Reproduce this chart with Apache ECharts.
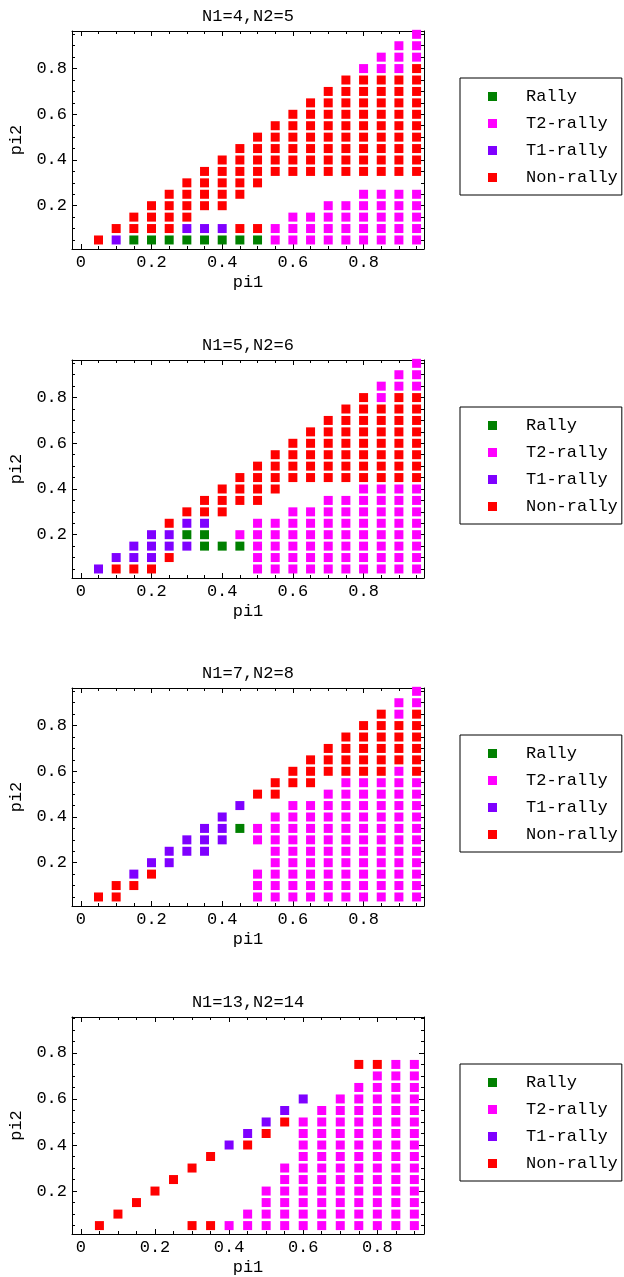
<!DOCTYPE html>
<html>
<head>
<meta charset="utf-8">
<script src="https://cdn.jsdelivr.net/npm/echarts@6.0.0/dist/echarts.min.js"></script>
<style>
  html, body { margin: 0; padding: 0; background: #fff; }
  #main { width: 624px; height: 1277px; }
</style>
</head>
<body>
<div id="main"></div>
<script>
// legend categories and colours
const categories = ['Rally', 'T2-rally', 'T1-rally', 'Non-rally'];
const catColors = ['#008000', '#ff00ff', '#7f00ff', '#ff0000'];
const titles = ['N1=4,N2=5', 'N1=5,N2=6', 'N1=7,N2=8', 'N1=13,N2=14'];

// tick values
const xTickLabels = [0, 0.2, 0.4, 0.6, 0.8];
const yTickLabels = [0.2, 0.4, 0.6, 0.8];
const minorTicks = [0.05, 0.1, 0.15, 0.25, 0.3, 0.35, 0.45, 0.5, 0.55, 0.65, 0.7, 0.75, 0.85, 0.9, 0.95];
const minorTicks4 = [0.05, 0.1, 0.15, 0.25, 0.3, 0.35, 0.45, 0.5, 0.55, 0.65, 0.7, 0.75, 0.85, 0.9];

// data: [pi1, [pi2 values at that pi1]]
// N1=4,N2=5
const p1Rally = [[0.15, [0.05]], [0.2, [0.05]], [0.25, [0.05]], [0.3, [0.05]], [0.35, [0.05]], [0.4, [0.05]], [0.45, [0.05]], [0.5, [0.05]]];
const p1T2 = [
  [0.55, [0.05, 0.1]],
  [0.6, [0.05, 0.1, 0.15]],
  [0.65, [0.05, 0.1, 0.15]],
  [0.7, [0.05, 0.1, 0.15, 0.2]],
  [0.75, [0.05, 0.1, 0.15, 0.2]],
  [0.8, [0.05, 0.1, 0.15, 0.2, 0.25, 0.8]],
  [0.85, [0.05, 0.1, 0.15, 0.2, 0.25, 0.8, 0.85]],
  [0.9, [0.05, 0.1, 0.15, 0.2, 0.25, 0.8, 0.85, 0.9]],
  [0.95, [0.05, 0.1, 0.15, 0.2, 0.25, 0.85, 0.9, 0.95]]
];
const p1T1 = [[0.1, [0.05]], [0.3, [0.1]], [0.35, [0.1]], [0.4, [0.1]]];
const p1Non = [
  [0, [0]],
  [0.05, [0.05]],
  [0.1, [0.1]],
  [0.15, [0.1, 0.15]],
  [0.2, [0.1, 0.15, 0.2]],
  [0.25, [0.1, 0.15, 0.2, 0.25]],
  [0.3, [0.15, 0.2, 0.25, 0.3]],
  [0.35, [0.2, 0.25, 0.3, 0.35]],
  [0.4, [0.2, 0.25, 0.3, 0.35, 0.4]],
  [0.45, [0.1, 0.25, 0.3, 0.35, 0.4, 0.45]],
  [0.5, [0.1, 0.3, 0.35, 0.4, 0.45, 0.5]],
  [0.55, [0.35, 0.4, 0.45, 0.5, 0.55]],
  [0.6, [0.35, 0.4, 0.45, 0.5, 0.55, 0.6]],
  [0.65, [0.35, 0.4, 0.45, 0.5, 0.55, 0.6, 0.65]],
  [0.7, [0.35, 0.4, 0.45, 0.5, 0.55, 0.6, 0.65, 0.7]],
  [0.75, [0.35, 0.4, 0.45, 0.5, 0.55, 0.6, 0.65, 0.7, 0.75]],
  [0.8, [0.35, 0.4, 0.45, 0.5, 0.55, 0.6, 0.65, 0.7, 0.75]],
  [0.85, [0.35, 0.4, 0.45, 0.5, 0.55, 0.6, 0.65, 0.7, 0.75]],
  [0.9, [0.35, 0.4, 0.45, 0.5, 0.55, 0.6, 0.65, 0.7, 0.75]],
  [0.95, [0.35, 0.4, 0.45, 0.5, 0.55, 0.6, 0.65, 0.7, 0.75, 0.8]]
];

// N1=5,N2=6
const p2Rally = [[0.3, [0.2]], [0.35, [0.15, 0.2]], [0.4, [0.15]], [0.45, [0.15]]];
const p2T2 = [
  [0.45, [0.2]],
  [0.5, [0.05, 0.1, 0.15, 0.2, 0.25]],
  [0.55, [0.05, 0.1, 0.15, 0.2, 0.25]],
  [0.6, [0.05, 0.1, 0.15, 0.2, 0.25, 0.3]],
  [0.65, [0.05, 0.1, 0.15, 0.2, 0.25, 0.3]],
  [0.7, [0.05, 0.1, 0.15, 0.2, 0.25, 0.3, 0.35]],
  [0.75, [0.05, 0.1, 0.15, 0.2, 0.25, 0.3, 0.35]],
  [0.8, [0.05, 0.1, 0.15, 0.2, 0.25, 0.3, 0.35, 0.4]],
  [0.85, [0.05, 0.1, 0.15, 0.2, 0.25, 0.3, 0.35, 0.4, 0.8, 0.85]],
  [0.9, [0.05, 0.1, 0.15, 0.2, 0.25, 0.3, 0.35, 0.4, 0.85, 0.9]],
  [0.95, [0.05, 0.1, 0.15, 0.2, 0.25, 0.3, 0.35, 0.4, 0.85, 0.9, 0.95]]
];
const p2T1 = [[0.05, [0.05]], [0.1, [0.1]], [0.15, [0.1, 0.15]], [0.2, [0.1, 0.15, 0.2]], [0.25, [0.15, 0.2]], [0.3, [0.15, 0.25]], [0.35, [0.25]]];
const p2Non = [
  [0, [0]],
  [0.1, [0.05]],
  [0.15, [0.05]],
  [0.2, [0.05]],
  [0.25, [0.1, 0.25]],
  [0.3, [0.3]],
  [0.35, [0.3, 0.35]],
  [0.4, [0.3, 0.35, 0.4]],
  [0.45, [0.35, 0.4, 0.45]],
  [0.5, [0.35, 0.4, 0.45, 0.5]],
  [0.55, [0.4, 0.45, 0.5, 0.55]],
  [0.6, [0.45, 0.5, 0.55, 0.6]],
  [0.65, [0.45, 0.5, 0.55, 0.6, 0.65]],
  [0.7, [0.45, 0.5, 0.55, 0.6, 0.65, 0.7]],
  [0.75, [0.45, 0.5, 0.55, 0.6, 0.65, 0.7, 0.75]],
  [0.8, [0.45, 0.5, 0.55, 0.6, 0.65, 0.7, 0.75, 0.8]],
  [0.85, [0.45, 0.5, 0.55, 0.6, 0.65, 0.7, 0.75]],
  [0.9, [0.45, 0.5, 0.55, 0.6, 0.65, 0.7, 0.75, 0.8]],
  [0.95, [0.45, 0.5, 0.55, 0.6, 0.65, 0.7, 0.75, 0.8]]
];

// N1=7,N2=8
const p3Rally = [[0.45, [0.35]]];
const p3T2 = [
  [0.5, [0.05, 0.1, 0.15, 0.3, 0.35]],
  [0.55, [0.05, 0.1, 0.15, 0.2, 0.25, 0.3, 0.35, 0.4]],
  [0.6, [0.05, 0.1, 0.15, 0.2, 0.25, 0.3, 0.35, 0.4, 0.45]],
  [0.65, [0.05, 0.1, 0.15, 0.2, 0.25, 0.3, 0.35, 0.4, 0.45]],
  [0.7, [0.05, 0.1, 0.15, 0.2, 0.25, 0.3, 0.35, 0.4, 0.45, 0.5]],
  [0.75, [0.05, 0.1, 0.15, 0.2, 0.25, 0.3, 0.35, 0.4, 0.45, 0.5, 0.55]],
  [0.8, [0.05, 0.1, 0.15, 0.2, 0.25, 0.3, 0.35, 0.4, 0.45, 0.5, 0.55]],
  [0.85, [0.05, 0.1, 0.15, 0.2, 0.25, 0.3, 0.35, 0.4, 0.45, 0.5, 0.55]],
  [0.9, [0.05, 0.1, 0.15, 0.2, 0.25, 0.3, 0.35, 0.4, 0.45, 0.5, 0.55, 0.6, 0.85, 0.9]],
  [0.95, [0.05, 0.1, 0.15, 0.2, 0.25, 0.3, 0.35, 0.4, 0.45, 0.5, 0.55, 0.9, 0.95]]
];
const p3T1 = [[0.15, [0.15]], [0.2, [0.2]], [0.25, [0.2, 0.25]], [0.3, [0.25, 0.3]], [0.35, [0.25, 0.3, 0.35]], [0.4, [0.3, 0.35, 0.4]], [0.45, [0.45]]];
const p3Non = [
  [0, [0]],
  [0.05, [0.05]],
  [0.1, [0.05, 0.1]],
  [0.15, [0.1]],
  [0.2, [0.15]],
  [0.5, [0.5]],
  [0.55, [0.5, 0.55]],
  [0.6, [0.55, 0.6]],
  [0.65, [0.55, 0.6, 0.65]],
  [0.7, [0.6, 0.65, 0.7]],
  [0.75, [0.6, 0.65, 0.7, 0.75]],
  [0.8, [0.6, 0.65, 0.7, 0.75, 0.8]],
  [0.85, [0.6, 0.65, 0.7, 0.75, 0.8, 0.85]],
  [0.9, [0.65, 0.7, 0.75, 0.8]],
  [0.95, [0.6, 0.65, 0.7, 0.75, 0.8, 0.85]]
];

// N1=13,N2=14
const p4Rally = [];
const p4T2 = [
  [0.4, [0.05]],
  [0.45, [0.05, 0.1]],
  [0.5, [0.05, 0.1, 0.15, 0.2]],
  [0.55, [0.05, 0.1, 0.15, 0.2, 0.25, 0.3]],
  [0.6, [0.05, 0.1, 0.15, 0.2, 0.25, 0.3, 0.35, 0.4, 0.45, 0.5]],
  [0.65, [0.05, 0.1, 0.15, 0.2, 0.25, 0.3, 0.35, 0.4, 0.45, 0.5, 0.55]],
  [0.7, [0.05, 0.1, 0.15, 0.2, 0.25, 0.3, 0.35, 0.4, 0.45, 0.5, 0.55, 0.6]],
  [0.75, [0.05, 0.1, 0.15, 0.2, 0.25, 0.3, 0.35, 0.4, 0.45, 0.5, 0.55, 0.6, 0.65]],
  [0.8, [0.05, 0.1, 0.15, 0.2, 0.25, 0.3, 0.35, 0.4, 0.45, 0.5, 0.55, 0.6, 0.65, 0.7]],
  [0.85, [0.05, 0.1, 0.15, 0.2, 0.25, 0.3, 0.35, 0.4, 0.45, 0.5, 0.55, 0.6, 0.65, 0.7, 0.75]],
  [0.9, [0.05, 0.1, 0.15, 0.2, 0.25, 0.3, 0.35, 0.4, 0.45, 0.5, 0.55, 0.6, 0.65, 0.7, 0.75]]
];
const p4T1 = [[0.4, [0.4]], [0.45, [0.45]], [0.5, [0.5]], [0.55, [0.55]], [0.6, [0.6]]];
const p4Non = [
  [0, [0]], [0.05, [0.05]], [0.1, [0.1]], [0.15, [0.15]], [0.2, [0.2]], [0.25, [0.25]],
  [0.3, [0.05, 0.3]], [0.35, [0.05, 0.35]], [0.45, [0.4]], [0.5, [0.45]], [0.55, [0.5]],
  [0.75, [0.75]], [0.8, [0.75]]
];

const panels = [
  [p1Rally, p1T2, p1T1, p1Non],
  [p2Rally, p2T2, p2T1, p2Non],
  [p3Rally, p3T2, p3T1, p3Non],
  [p4Rally, p4T2, p4T1, p4Non]
];

// layout
const gridTops = [31, 360, 688, 1017];
const legendTops = [78, 407, 735, 1064];
const titleTops = [8, 337, 665, 994];
const xRanges = [[-0.025, 0.971], [-0.025, 0.971], [-0.025, 0.971], [-0.024, 0.926]];
const yRanges = [[0.0105, 0.9645], [0.0105, 0.9645], [0.0105, 0.9645], [0.0135, 0.956]];
const mono = '"Liberation Mono", "Courier New", monospace';
const fs = 17;

function pts(cols) {
  const out = [];
  cols.forEach(([x, ys]) => ys.forEach(y => out.push([x, y])));
  return out;
}

const black = { color: '#000', width: 1 };
function axis(kind, g, pos, range, ticks, len, withLine, labels, name) {
  const a = {
    type: 'value', gridIndex: g, position: pos, min: range[0], max: range[1],
    axisLine: { show: withLine, onZero: false, lineStyle: black },
    axisTick: { show: true, inside: true, length: len, customValues: ticks, lineStyle: black },
    axisLabel: { show: false },
    splitLine: { show: false }
  };
  if (labels) {
    a.axisLabel = { show: true, customValues: labels, margin: kind === 'x' ? 5 : 5,
      fontFamily: mono, fontSize: fs, color: '#000' };
  }
  if (name) {
    a.name = name;
    a.nameLocation = 'middle';
    a.nameGap = kind === 'x' ? 25 : 42;
    a.nameTextStyle = { fontFamily: mono, fontSize: fs, color: '#000' };
  }
  return a;
}

const xAxes = [], yAxes = [], grids = [], series = [], titleOpts = [], legends = [];
panels.forEach((cats, g) => {
  grids.push({ left: 72, top: gridTops[g], width: 352, height: 218 });
  const xMinor = g === 3 ? minorTicks4 : minorTicks;
  xAxes.push(axis('x', g, 'bottom', xRanges[g], xTickLabels, 5, true, xTickLabels, 'pi1'));
  xAxes.push(axis('x', g, 'bottom', xRanges[g], xMinor, 3, false));
  xAxes.push(axis('x', g, 'top', xRanges[g], xTickLabels, 5, true));
  xAxes.push(axis('x', g, 'top', xRanges[g], xMinor, 3, false));
  yAxes.push(axis('y', g, 'left', yRanges[g], yTickLabels, 5, true, yTickLabels, 'pi2'));
  yAxes.push(axis('y', g, 'left', yRanges[g], minorTicks, 3, false));
  yAxes.push(axis('y', g, 'right', yRanges[g], yTickLabels, 5, true));
  yAxes.push(axis('y', g, 'right', yRanges[g], minorTicks, 3, false));
  cats.forEach((cols, c) => {
    series.push({
      name: categories[c], type: 'scatter', xAxisIndex: 4 * g, yAxisIndex: 4 * g,
      symbol: 'rect', symbolSize: 9, itemStyle: { color: catColors[c], opacity: 1 },
      data: pts(cols)
    });
  });
  titleOpts.push({
    text: titles[g], left: 248, top: titleTops[g], textAlign: 'center', padding: 0,
    textStyle: { fontFamily: mono, fontSize: fs, fontWeight: 'normal', color: '#000' }
  });
  legends.push({
    orient: 'vertical', left: 460, top: legendTops[g], data: categories,
    selectedMode: false, icon: 'rect', itemWidth: 9, itemHeight: 9, itemGap: 10,
    padding: [10, 4, 9, 28], borderColor: '#000', borderWidth: 1,
    itemStyle: { opacity: 1 },
    textStyle: { fontFamily: mono, fontSize: fs, color: '#000', padding: [0, 0, 0, 24] }
  });
});

const chart = echarts.init(document.getElementById('main'));
chart.setOption({
  animation: false,
  backgroundColor: '#fff',
  title: titleOpts,
  legend: legends,
  grid: grids,
  xAxis: xAxes,
  yAxis: yAxes,
  series: series
});
</script>
</body>
</html>
